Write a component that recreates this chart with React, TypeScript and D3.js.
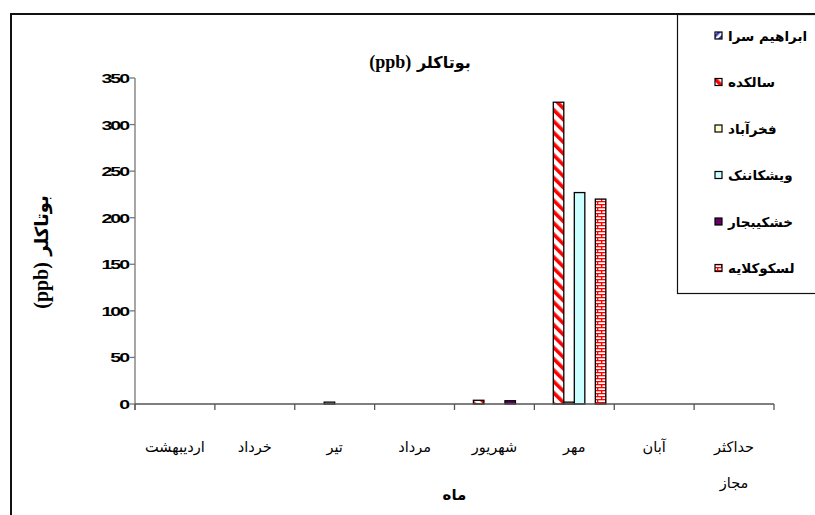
import React from "react";
import * as d3 from "d3";

const months = ["اردیبهشت", "خرداد", "تیر", "مرداد", "شهریور", "مهر", "آبان", "حداکثر مجاز"];
const seriesNames = ["ابراهیم سرا", "سالکده", "فخرآباد", "ویشکاننک", "خشکیبجار", "لسکوکلایه"];
const ebrahimSara = [0, 0, 0, 0, 0, 0, 0, 0];
const salkadeh = [0, 0, 0, 0, 4, 324, 0, 0];
const fakhrabad = [0, 0, 2, 0, 0, 2, 0, 0];
const vishkanank = [0, 0, 0, 0, 0, 227, 0, 0];
const khoshkebijar = [0, 0, 0, 0, 3.5, 0, 0, 0];
const laskoukolayeh = [0, 0, 0, 0, 0, 220, 0, 0];
const seriesValues = [ebrahimSara, salkadeh, fakhrabad, vishkanank, khoshkebijar, laskoukolayeh];
const yTicks = [0, 50, 100, 150, 200, 250, 300, 350];
const titleArabic = "بوتاکلر";
const unitText = "(ppb)";
const xTitle = "ماه";

const fills = [
  "url(#pEbrahim)",
  "url(#pSalkadeh)",
  "#FFFFCC",
  "#CCFFFF",
  "#660066",
  "url(#pBrick)",
];

export default function App() {
  const W = 815;
  const H = 515;
  const left = 135;
  const right = 774;
  const x = d3.scaleBand<string>().domain(months).range([left, right]);
  const bw = x.bandwidth();
  const xs = d3.scaleBand<string>().domain(seriesNames).range([0, bw]).paddingOuter(0.8);
  const y = d3.scaleLinear().domain([0, 350]).range([404, 78]);
  const y0 = y(0);
  const arabicFont = "'DejaVu Sans', sans-serif";

  const boundaries = d3.range(months.length + 1).map((i) => left + i * bw);

  return (
    <div style={{ position: "absolute", left: 0, top: 0, width: W, height: H, background: "#fff" }}>
      <div
        style={{
          position: "absolute",
          left: 10,
          top: 13,
          width: W,
          height: H,
          borderLeft: "2px solid #111",
          borderTop: "2px solid #111",
          boxSizing: "border-box",
        }}
      />
      <svg
        width={W}
        height={H}
        style={{ position: "absolute", left: 0, top: 0 }}
      >
        <defs>
          <pattern id="pEbrahim" width="5" height="5" patternUnits="userSpaceOnUse" patternTransform="rotate(45)">
            <rect width="5" height="5" fill="#ffffff" />
            <rect x="0" width="2.5" height="5" fill="#3333CC" />
          </pattern>
          <pattern id="pSalkadeh" width="8" height="8" patternUnits="userSpaceOnUse" patternTransform="rotate(-45)">
            <rect width="8" height="8" fill="#ffffff" />
            <rect x="0" width="3.6" height="8" fill="#FF0000" />
          </pattern>
          <pattern id="pBrick" width="8" height="6" patternUnits="userSpaceOnUse">
            <rect width="8" height="6" fill="#ffffff" />
            <rect x="0" y="0" width="8" height="1.3" fill="#FF0000" />
            <rect x="0" y="3" width="8" height="1.3" fill="#FF0000" />
            <rect x="1" y="0" width="1.3" height="3" fill="#FF0000" />
            <rect x="5" y="3" width="1.3" height="3" fill="#FF0000" />
          </pattern>
        </defs>

        {/* title */}
        <text x={420} y={68} textAnchor="middle" fontWeight="bold" direction="ltr">
          <tspan fontFamily="'Liberation Serif', serif" fontSize={18}>{unitText}</tspan>
          <tspan fontFamily={arabicFont} fontSize={16}>{" " + titleArabic}</tspan>
        </text>

        {/* y axis title */}
        <text
          transform={`translate(48, 252) rotate(-90)`}
          textAnchor="middle"
          fontWeight="bold"
          direction="ltr"
        >
          <tspan fontFamily="'Liberation Serif', serif" fontSize={20}>{unitText}</tspan>
          <tspan fontFamily={arabicFont} fontSize={18}>{" " + titleArabic}</tspan>
        </text>

        {/* bars */}
        {seriesValues.map((vals, si) =>
          vals.map((v, mi) =>
            v > 0 ? (
              <rect
                key={`${si}-${mi}`}
                x={(x(months[mi]) as number) + (xs(seriesNames[si]) as number)}
                y={y(v)}
                width={xs.bandwidth()}
                height={y0 - y(v)}
                fill={fills[si]}
                stroke="#000"
                strokeWidth={1.3}
              />
            ) : null
          )
        )}

        {/* y axis */}
        <line x1={left} x2={left} y1={y(350)} y2={y0 + 6} stroke="#777" strokeWidth={1.3} />
        {yTicks.map((t) => (
          <g key={t}>
            <line x1={left - 5} x2={left} y1={y(t)} y2={y(t)} stroke="#777" strokeWidth={1.3} />
            <text
              transform={`translate(${left - 7}, ${y(t) + 5}) scale(1.45,1)`}
              textAnchor="end"
              fontFamily="'Liberation Sans', Arial, sans-serif"
              fontWeight="bold"
              fontSize={13.5}
              letterSpacing={-1.4}
              fill="#000"
            >
              {t}
            </text>
          </g>
        ))}

        {/* x axis */}
        <line x1={left} x2={right} y1={y0} y2={y0} stroke="#555" strokeWidth={1.3} />
        {boundaries.map((b, i) => (
          <line key={i} x1={b} x2={b} y1={y0} y2={y0 + 6} stroke="#555" strokeWidth={1.3} />
        ))}
        {months.map((m, i) => {
          const cx = (x(m) as number) + bw / 2;
          const parts = m.split(" ");
          return (
            <text key={m} fontFamily={arabicFont} fontSize={14.5} textAnchor="middle" fill="#000">
              {parts.map((p, j) => (
                <tspan key={j} x={cx} y={452 + j * 36}>
                  {p}
                </tspan>
              ))}
            </text>
          );
        })}
        <text x={(left + right) / 2} y={500} textAnchor="middle" fontFamily={arabicFont} fontWeight="bold" fontSize={15}>
          {xTitle}
        </text>

        {/* legend */}
        <rect x={677.5} y={14.5} width={200} height={279} fill="#fff" stroke="#111" strokeWidth={1.2} />
        {seriesNames.map((s, i) => {
          const cy = 35.5 + i * 46.5;
          return (
            <g key={s}>
              <rect x={715} y={cy - 3.5} width={7} height={7} fill={fills[i]} stroke="#000" strokeWidth={1.2} />
              <text x={728} y={cy + 5} fontFamily={arabicFont} fontWeight="bold" fontSize={13.5} fill="#000">
                {s}
              </text>
            </g>
          );
        })}
      </svg>
    </div>
  );
}
